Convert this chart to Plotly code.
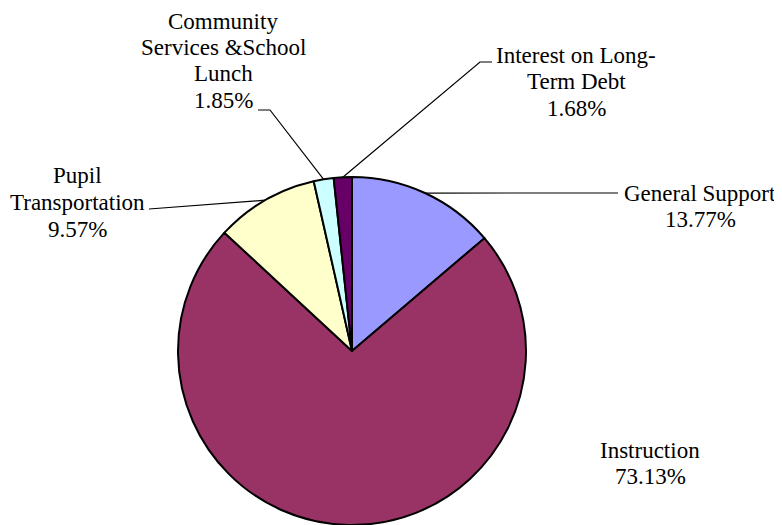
import math
import plotly.graph_objects as go

categories = ["General Support", "Instruction", "Pupil Transportation",
              "Community Services &School Lunch", "Interest on Long-Term Debt"]
values = [13.77, 73.13, 9.57, 1.85, 1.68]
label_lines = [
    ["General Support", "13.77%"],
    ["Instruction", "73.13%"],
    ["Pupil", "Transportation", "9.57%"],
    ["Community", "Services &School", "Lunch", "1.85%"],
    ["Interest on Long-", "Term Debt", "1.68%"],
]
colors = ["#9999FF", "#993366", "#FFFFCC", "#CCFFFF", "#660066"]

OFF = 8  # page body margin
W, H = 782 - OFF, 525 - OFF
CX, CY, R = 352 - OFF, 351 - OFF, 174

# label layout (page pixel centres of first line) and leader elbows
label_pos = [(700, 193), (650, 450), (77, 176), (223, 21), (576, 55)]
leader_path = [
    [(618, 193)],
    None,
    [(149, 209)],
    [(270, 110), (258, 110)],
    [(480, 62), (492, 62)],
]
LINE_STEP = 26.5
FONT = "Liberation Serif, Times New Roman, serif"

def px(x):
    return x / W

def py(y):
    return 1 - y / H

fig = go.Figure(go.Pie(
    labels=categories, values=values, sort=False, direction="clockwise",
    rotation=0, textinfo="none", hoverinfo="label+percent",
    marker=dict(colors=colors, line=dict(color="black", width=2)),
    domain=dict(x=[(CX - R) / W, (CX + R) / W], y=[0, 2 * R / H]),
    showlegend=False,
))

annotations = []
for (x0, y0), lines in zip(label_pos, label_lines):
    for i, t in enumerate(lines):
        annotations.append(dict(
            x=px(x0 - OFF), y=py(y0 - OFF + i * LINE_STEP),
            xref="paper", yref="paper",
            text=t, showarrow=False, xanchor="center", yanchor="middle",
            font=dict(family=FONT, size=23, color="black"),
        ))

shapes = []
total = sum(values)
cum = 0.0
for v, path in zip(values, leader_path):
    mid = (cum + v / 2) / total * 2 * math.pi
    cum += v
    if path is None:
        continue
    sx = CX + R * math.sin(mid)
    sy = CY - R * math.cos(mid)
    pts = [(sx, sy)] + [(a - OFF, b - OFF) for a, b in path]
    d = "M " + " L ".join(f"{px(a):.5f},{py(b):.5f}" for a, b in pts)
    shapes.append(dict(type="path", path=d, xref="paper", yref="paper",
                       line=dict(color="black", width=1.2)))

fig.update_layout(
    width=W, height=H, margin=dict(l=0, r=0, t=0, b=0),
    paper_bgcolor="white", plot_bgcolor="white",
    font=dict(family=FONT),
    annotations=annotations, shapes=shapes,
)
fig.write_html("out.html")
